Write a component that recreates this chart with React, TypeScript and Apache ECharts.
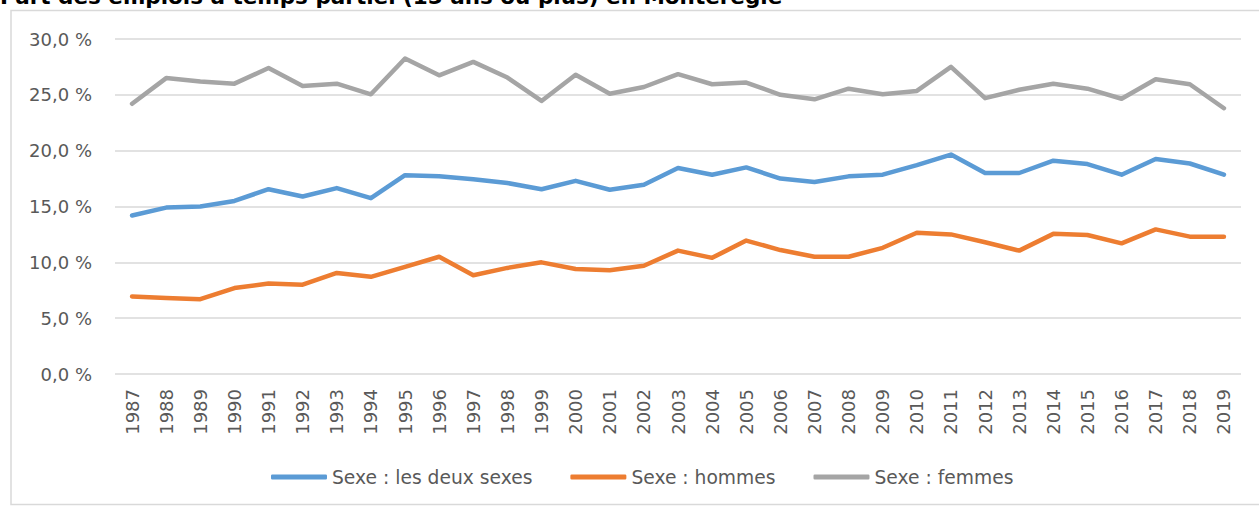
import React, { useEffect, useRef } from "react";
import * as echarts from "echarts";

const TITLE = "Part des emplois à temps partiel (15 ans ou plus) en Montérégie";

const years = [
  "1987", "1988", "1989", "1990", "1991", "1992", "1993", "1994", "1995", "1996",
  "1997", "1998", "1999", "2000", "2001", "2002", "2003", "2004", "2005", "2006",
  "2007", "2008", "2009", "2010", "2011", "2012", "2013", "2014", "2015", "2016",
  "2017", "2018", "2019",
];

const deuxSexes = [
  14.2, 14.9, 15.0, 15.5, 16.55, 15.9, 16.65, 15.75, 17.8, 17.7,
  17.45, 17.1, 16.55, 17.3, 16.5, 16.95, 18.45, 17.85, 18.5, 17.5,
  17.2, 17.7, 17.85, 18.7, 19.65, 18.0, 18.0, 19.1, 18.8, 17.85,
  19.25, 18.85, 17.85,
];

const hommes = [
  6.95, 6.8, 6.7, 7.7, 8.1, 8.0, 9.05, 8.7, 9.6, 10.5,
  8.85, 9.5, 10.0, 9.4, 9.3, 9.7, 11.05, 10.4, 11.95, 11.1,
  10.5, 10.5, 11.3, 12.65, 12.5, 11.8, 11.05, 12.55, 12.45, 11.7,
  12.95, 12.3, 12.3,
];

const femmes = [
  24.2, 26.5, 26.2, 26.0, 27.4, 25.8, 26.0, 25.05, 28.25, 26.75,
  27.95, 26.55, 24.45, 26.8, 25.1, 25.7, 26.85, 25.95, 26.1, 25.0,
  24.6, 25.55, 25.05, 25.35, 27.5, 24.7, 25.45, 26.0, 25.55, 24.65,
  26.4, 25.95, 23.8,
];

const seriesNames = ["Sexe : les deux sexes", "Sexe : hommes", "Sexe : femmes"];
const seriesColors = ["#5B9BD5", "#ED7D31", "#A5A5A5"];

const FONT = "DejaVu Sans";
const TEXT_COLOR = "#595959";

export default function App() {
  const ref = useRef<HTMLDivElement>(null);

  useEffect(() => {
    if (!ref.current) return;
    const chart = echarts.init(ref.current, null, { renderer: "svg" });
    const dataSets = [deuxSexes, hommes, femmes];
    chart.setOption({
      animation: false,
      backgroundColor: "#ffffff",
      textStyle: { fontFamily: FONT },
      graphic: [
        {
          type: "rect",
          shape: { x: 11, y: 10.5, width: 1300, height: 494 },
          style: { fill: "none", stroke: "#D9D9D9", lineWidth: 1.5 },
          silent: true,
          z: -1,
        },
        {
          type: "text",
          left: 0,
          top: -15,
          style: {
            text: TITLE,
            fontFamily: FONT,
            fontSize: 21.5,
            fontWeight: "bold",
            fill: "#000000",
          },
          silent: true,
        },
      ],
      grid: { left: 115, right: 18, top: 39, bottom: 132, containLabel: false },
      legend: {
        left: 271,
        top: 465,
        padding: 0,
        itemWidth: 56,
        itemHeight: 5,
        itemGap: 38,
        icon: "roundRect",
        textStyle: { fontFamily: FONT, fontSize: 18.7, color: TEXT_COLOR, lineHeight: 24 },
        data: seriesNames,
      },
      xAxis: {
        type: "category",
        data: years,
        boundaryGap: true,
        axisLine: { show: false },
        axisTick: { show: false },
        axisLabel: {
          rotate: 90,
          interval: 0,
          margin: 15,
          fontFamily: FONT,
          fontSize: 18,
          color: TEXT_COLOR,
        },
      },
      yAxis: {
        type: "value",
        min: 0,
        max: 30,
        interval: 5,
        axisLine: { show: false },
        axisTick: { show: false },
        splitLine: { lineStyle: { color: "#D9D9D9", width: 1.5 } },
        axisLabel: {
          margin: 23,
          fontFamily: FONT,
          fontSize: 18,
          color: TEXT_COLOR,
          formatter: (v: number) => v.toFixed(1).replace(".", ",") + " %",
        },
      },
      series: seriesNames.map((name, i) => ({
        name,
        type: "line",
        data: dataSets[i],
        symbol: "none",
        color: seriesColors[i],
        lineStyle: { width: 4.5, color: seriesColors[i], cap: "round", join: "round" },
      })),
    });
    return () => chart.dispose();
  }, []);

  return (
    <div
      ref={ref}
      style={{ position: "absolute", left: 0, top: 0, width: 1259, height: 506 }}
    />
  );
}
